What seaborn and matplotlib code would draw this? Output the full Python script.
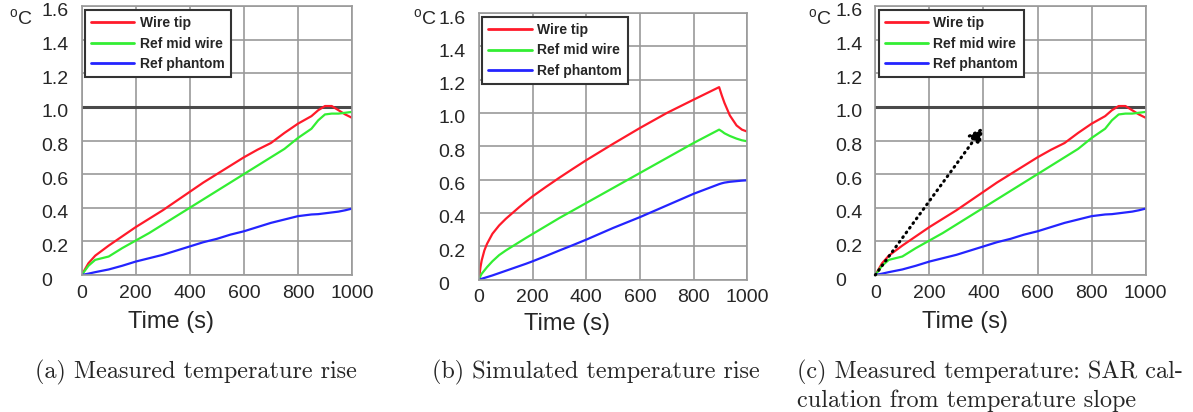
import numpy as np
import pandas as pd
import matplotlib
matplotlib.use("Agg")
import matplotlib.pyplot as plt
import matplotlib.transforms as mtransforms
import seaborn as sns

# ---------------- data ----------------
series_names = ["Wire tip", "Ref mid wire", "Ref phantom"]
series_colors = ["#ff1a2a", "#33ee33", "#2424ff"]

# Measured temperature rise (panels a and c)
meas_time = [0, 25, 50, 75, 100, 150, 200, 250, 300, 350, 400, 450, 500, 550, 600,
             650, 700, 750, 800, 850, 875, 900, 925, 950, 975, 1000]
meas_wire_tip = [0, 0.07, 0.115, 0.145, 0.175, 0.23, 0.285, 0.335, 0.385, 0.44, 0.495,
                 0.55, 0.60, 0.65, 0.70, 0.745, 0.785, 0.845, 0.90, 0.945, 0.98, 1.005,
                 1.005, 0.98, 0.955, 0.935]
meas_mid_wire = [0, 0.055, 0.09, 0.10, 0.11, 0.16, 0.205, 0.25, 0.30, 0.35, 0.40, 0.45,
                 0.50, 0.55, 0.60, 0.65, 0.70, 0.75, 0.815, 0.87, 0.92, 0.955, 0.96,
                 0.96, 0.965, 0.97]
meas_phantom = [0, 0.008, 0.017, 0.025, 0.033, 0.055, 0.08, 0.10, 0.12, 0.145, 0.17,
                0.195, 0.215, 0.24, 0.26, 0.285, 0.31, 0.33, 0.35, 0.36, 0.362, 0.367,
                0.372, 0.377, 0.385, 0.395]

# Simulated temperature rise (panel b)
sim_time = [0, 5, 10, 20, 30, 50, 75, 100, 125, 150, 175, 200, 250, 300, 350, 400,
            500, 600, 700, 800, 895, 905, 915, 935, 960, 980, 1000]
sim_wire_tip = [0, 0.07, 0.115, 0.175, 0.215, 0.275, 0.325, 0.365, 0.40, 0.435, 0.468,
                0.50, 0.557, 0.612, 0.665, 0.717, 0.815, 0.91, 1.0, 1.08, 1.155, 1.105,
                1.06, 0.985, 0.925, 0.90, 0.888]
sim_mid_wire = [0, 0.02, 0.035, 0.055, 0.075, 0.11, 0.147, 0.175, 0.20, 0.225, 0.25,
                0.274, 0.322, 0.37, 0.415, 0.46, 0.55, 0.64, 0.73, 0.82, 0.90, 0.89,
                0.878, 0.862, 0.846, 0.836, 0.83]
sim_phantom = [0, 0.002, 0.005, 0.01, 0.015, 0.025, 0.039, 0.053, 0.067, 0.081, 0.095,
               0.11, 0.142, 0.175, 0.207, 0.24, 0.31, 0.375, 0.445, 0.515, 0.573, 0.578,
               0.582, 0.587, 0.591, 0.594, 0.596]

x_ticks = [0, 200, 400, 600, 800, 1000]
y_ticks = [0, 0.2, 0.4, 0.6, 0.8, 1.0, 1.2, 1.4, 1.6]
y_tick_labels = ["0", "0.2", "0.4", "0.6", "0.8", "1.0", "1.2", "1.4", "1.6"]
ref_level = 1.0
slope_arrow_start = (0, 0)
slope_arrow_end = (400, 0.88)

captions = [["(a) Measured temperature rise"],
            ["(b) Simulated temperature rise"],
            ["(c) Measured temperature: SAR cal-", "culation from temperature slope"]]


def long_frame(t, a, b, c):
    return pd.DataFrame({
        "time": list(t) * 3,
        "temp": list(a) + list(b) + list(c),
        "series": [series_names[0]] * len(t) + [series_names[1]] * len(t)
                  + [series_names[2]] * len(t),
    })


df_meas = long_frame(meas_time, meas_wire_tip, meas_mid_wire, meas_phantom)
df_sim = long_frame(sim_time, sim_wire_tip, sim_mid_wire, sim_phantom)

# ---------------- style ----------------
sns.set_style("white")
plt.rcParams["font.family"] = ["Liberation Sans", "DejaVu Sans"]
plt.rcParams["mathtext.fontset"] = "custom"
plt.rcParams["mathtext.rm"] = "Liberation Sans"

W, H = 1193, 412
fig = plt.figure(figsize=(W / 100, H / 100), dpi=100)

# axes pixel boxes: left, right, top, bottom
boxes = [(81.7, 352.0, 6.0, 275.0), (479.0, 747.3, 13.0, 279.6), (875.3, 1145.7, 6.0, 275.0)]
label_y = [322, 324, 322]
degc_x = [9, 413, 808]
cap_x = [35, 432, 797]
cap_baselines = [378, 407]

panels = [(df_meas, True, False), (df_sim, False, False), (df_meas, True, True)]
palette = dict(zip(series_names, series_colors))
grid_col = "#9a9a9a"

for i, ((l, r, t, b), (df, has_ref, has_arrow)) in enumerate(zip(boxes, panels)):
    ax = fig.add_axes([l / W, 1 - b / H, (r - l) / W, (b - t) / H])
    ax.set_xlim(0, 1000)
    ax.set_ylim(0, 1.6)
    ax.set_xticks(x_ticks)
    ax.set_yticks(y_ticks)
    ax.grid(True, color=grid_col, lw=1.2)
    ax.set_axisbelow(True)
    for s in ax.spines.values():
        s.set_color(grid_col)
        s.set_linewidth(1.2)
    if has_ref:
        ax.axhline(ref_level, color="#4a4a4a", lw=2.2, zorder=1.5)

    sns.lineplot(data=df, x="time", y="temp", hue="series", palette=palette,
                 hue_order=series_names, linewidth=1.6, ax=ax, legend=True,
                 estimator=None, sort=False)

    if has_arrow:
        ax.annotate("", xy=slope_arrow_end, xytext=slope_arrow_start,
                    arrowprops=dict(arrowstyle="-|>", color="black", lw=2.2,
                                    linestyle=(0, (0.3, 1.6)), capstyle="round",
                                    mutation_scale=22, shrinkA=0, shrinkB=0),
                    zorder=5)

    ax.set_xticklabels([str(v) for v in x_ticks], fontsize=14)
    ax.set_yticklabels(y_tick_labels, fontsize=14)
    ax.tick_params(axis="both", length=0)
    ax.tick_params(axis="x", pad=7)
    ax.tick_params(axis="y", pad=29)
    off = mtransforms.ScaledTranslation(0, -4 / 100, fig.dpi_scale_trans)
    for lab in ax.get_yticklabels():
        lab.set_horizontalalignment("left")
        lab.set_transform(lab.get_transform() + off)

    ax.set_ylabel("")
    ax.set_xlabel("Time (s)", fontsize=17)
    ax.xaxis.set_label_coords((l + (r - l) / 2 - 46 - l) / (r - l),
                              -(label_y[i] - b) / (b - t))
    ax.xaxis.label.set_va("center")

    leg = ax.legend(loc="upper left", bbox_to_anchor=(0.012, 0.985), borderaxespad=0,
                    prop={"size": 10, "weight": "bold"}, handlelength=3.1,
                    handletextpad=0.4, labelspacing=0.45, borderpad=0.45,
                    fancybox=False, framealpha=1)
    leg.get_frame().set_edgecolor("#333333")
    leg.get_frame().set_linewidth(1.5)
    for ln in leg.get_lines():
        ln.set_linewidth(2.0)

    fig.text(degc_x[i] / W, 1 - 19 / H, r"$^{\mathrm{o}}$C", fontsize=14,
             ha="left", va="center")

    for j, line in enumerate(captions[i]):
        fig.text(cap_x[i] / W, 1 - cap_baselines[j] / H, line, fontsize=17.4,
                 family=["cmr10", "DejaVu Serif"], ha="left", va="baseline")

fig.savefig("out.png", dpi=100)
